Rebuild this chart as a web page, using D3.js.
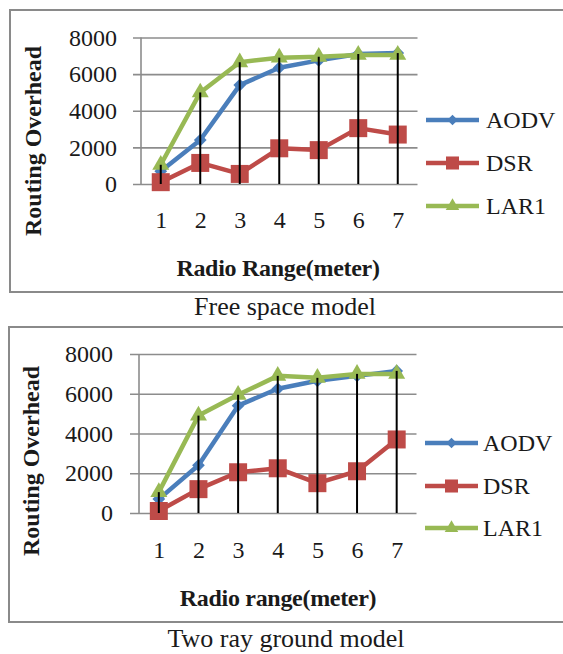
<!DOCTYPE html>
<html>
<head>
<meta charset="utf-8">
<script src="https://cdn.jsdelivr.net/npm/d3@7"></script>
<style>
  body { margin: 0; background: #fff; }
  text { font-family: "Liberation Serif", "Times New Roman", serif; fill: #1a1a1a; }
</style>
</head>
<body>
<div id="chart"></div>
<script>
// Data
var categories = [1, 2, 3, 4, 5, 6, 7];
var yTicks = [0, 2000, 4000, 6000, 8000];
var seriesNames = ["AODV", "DSR", "LAR1"];

var freeAODV = [700, 2400, 5400, 6350, 6750, 7100, 7150];
var freeDSR  = [100, 1150, 550, 1950, 1850, 3050, 2700];
var freeLAR1 = [1050, 5000, 6650, 6900, 6950, 7050, 7050];

var twoRayAODV = [700, 2400, 5400, 6250, 6650, 6900, 7150];
var twoRayDSR  = [100, 1200, 2050, 2250, 1500, 2100, 3700];
var twoRayLAR1 = [1050, 4900, 5950, 6900, 6800, 7000, 7000];

var colors = { AODV: "#4A7EBB", DSR: "#BE4B48", LAR1: "#98B954" };

function init() {
    var w = 563, h = 654;

    var svg = d3.select("#chart")
                .append("svg")
                .attr("width", w)
                .attr("height", h);

    // panel layouts (positions only)
    drawPanel(svg, {
        box: { x: 10, y: 10, w: 570, h: 282 },
        left: 141, right: 417.5, gridStart: 133, y0: 184, yTop: 37.5,
        labelPad: 16, xLabelPad: 27,
        yTitle: { x: 41, y: 141 }, xTitle: { x: 278, y: 276, text: "Radio Range(meter)" },
        legend: { x1: 426, x2: 479, ys: [120, 163, 206], tx: 486 },
        caption: { x: 285, y: 315, text: "Free space model" }
    }, { AODV: freeAODV, DSR: freeDSR, LAR1: freeLAR1 });

    drawPanel(svg, {
        box: { x: 9, y: 327, w: 570, h: 295 },
        left: 139, right: 416.5, gridStart: 130, y0: 513, yTop: 354,
        labelPad: 17, xLabelPad: 28,
        yTitle: { x: 39, y: 461 }, xTitle: { x: 278, y: 606, text: "Radio range(meter)" },
        legend: { x1: 425, x2: 478, ys: [443, 486, 528], tx: 483 },
        caption: { x: 286, y: 647, text: "Two ray ground model" }
    }, { AODV: twoRayAODV, DSR: twoRayDSR, LAR1: twoRayLAR1 });
}

function marker(name, big) {
    if (name === "AODV") return d3.symbol().type(d3.symbolSquare).size(big ? 81 : 56)();
    if (name === "DSR") return d3.symbol().type(d3.symbolSquare).size(big ? 324 : 170)();
    return d3.symbol().type(d3.symbolTriangle).size(big ? 125 : 80)();
}

function drawPanel(svg, c, data) {
    var g = svg.append("g");

    // frame
    g.append("rect")
     .attr("x", c.box.x).attr("y", c.box.y)
     .attr("width", c.box.w).attr("height", c.box.h)
     .attr("fill", "none").attr("stroke", "#8a8a8a").attr("stroke-width", 2);

    var xScale = d3.scalePoint()
                   .domain(categories)
                   .range([c.left, c.right])
                   .padding(0.5);

    var yScale = d3.scaleLinear()
                   .domain([0, 8000])
                   .range([c.y0, c.yTop]);

    // gridlines + y tick labels
    var yAxis = d3.axisLeft(yScale)
                  .tickValues(yTicks)
                  .tickSizeInner(c.right - c.gridStart)
                  .tickSizeOuter(0)
                  .tickPadding(c.labelPad)
                  .tickFormat(d3.format("d"));

    var ya = g.append("g")
              .attr("transform", "translate(" + c.right + ",0)")
              .call(yAxis);
    ya.select(".domain").remove();
    ya.selectAll("line").attr("stroke", "#8c8c8c").attr("stroke-width", 1.6);
    ya.selectAll("text")
      .attr("font-size", 24)
      .attr("fill", "#1a1a1a")
      .style("font-family", "Liberation Serif");

    // vertical axis line
    g.append("line")
     .attr("x1", c.left).attr("x2", c.left)
     .attr("y1", yScale(0)).attr("y2", yScale(8000))
     .attr("stroke", "#8c8c8c").attr("stroke-width", 1.6);

    // x tick labels
    var xAxis = d3.axisBottom(xScale).tickSize(0).tickPadding(c.xLabelPad);
    var xa = g.append("g")
              .attr("transform", "translate(0," + yScale(0) + ")")
              .call(xAxis);
    xa.select(".domain").remove();
    xa.selectAll("text")
      .attr("font-size", 24)
      .attr("fill", "#1a1a1a")
      .style("font-family", "Liberation Serif");

    // series lines and markers
    var line = d3.line()
                 .x(function(d, i) { return xScale(categories[i]); })
                 .y(function(d) { return yScale(d); });

    seriesNames.forEach(function(name) {
        g.append("path")
         .datum(data[name])
         .attr("d", line)
         .attr("fill", "none")
         .attr("stroke", colors[name])
         .attr("stroke-width", 4.5)
         .attr("stroke-linejoin", "round");

        g.selectAll("path.m" + name)
         .data(data[name])
         .enter()
         .append("path")
         .attr("class", "m" + name)
         .attr("d", marker(name, true))
         .attr("fill", colors[name])
         .attr("transform", function(d, i) {
             var t = "translate(" + xScale(categories[i]) + "," + yScale(d) + ")";
             return name === "AODV" ? t + " rotate(45)" : t;
         });
    });

    // drop lines from the highest point to the axis
    g.selectAll("line.drop")
     .data(categories)
     .enter()
     .append("line")
     .attr("class", "drop")
     .attr("x1", function(d) { return xScale(d); })
     .attr("x2", function(d) { return xScale(d); })
     .attr("y1", yScale(0))
     .attr("y2", function(d, i) {
         return yScale(Math.max(data.AODV[i], data.DSR[i], data.LAR1[i]));
     })
     .attr("stroke", "#000")
     .attr("stroke-width", 2);

    // legend
    var leg = g.selectAll("g.legend")
               .data(seriesNames)
               .enter()
               .append("g")
               .attr("class", "legend")
               .attr("transform", function(d, i) { return "translate(0," + c.legend.ys[i] + ")"; });

    leg.append("line")
       .attr("x1", c.legend.x1).attr("x2", c.legend.x2)
       .attr("stroke", function(d) { return colors[d]; })
       .attr("stroke-width", 4.5);

    leg.append("path")
       .attr("d", function(d) { return marker(d, false); })
       .attr("fill", function(d) { return colors[d]; })
       .attr("transform", function(d) {
           var t = "translate(" + (c.legend.x1 + c.legend.x2) / 2 + ",0)";
           return d === "AODV" ? t + " rotate(45)" : t;
       });

    leg.append("text")
       .attr("x", c.legend.tx)
       .attr("y", 8)
       .attr("font-size", 24)
       .text(function(d) { return d; });

    // axis titles
    g.append("text")
     .attr("transform", "translate(" + c.yTitle.x + "," + c.yTitle.y + ") rotate(-90)")
     .attr("text-anchor", "middle")
     .attr("font-size", 24)
     .attr("font-weight", "bold")
     .text("Routing Overhead");

    g.append("text")
     .attr("x", c.xTitle.x)
     .attr("y", c.xTitle.y)
     .attr("text-anchor", "middle")
     .attr("font-size", 24)
     .attr("font-weight", "bold")
     .attr("letter-spacing", -0.3)
     .text(c.xTitle.text);

    // caption under the frame
    svg.append("text")
       .attr("x", c.caption.x)
       .attr("y", c.caption.y)
       .attr("text-anchor", "middle")
       .attr("font-size", 26)
       .text(c.caption.text);
}

window.onload = init;
</script>
</body>
</html>
